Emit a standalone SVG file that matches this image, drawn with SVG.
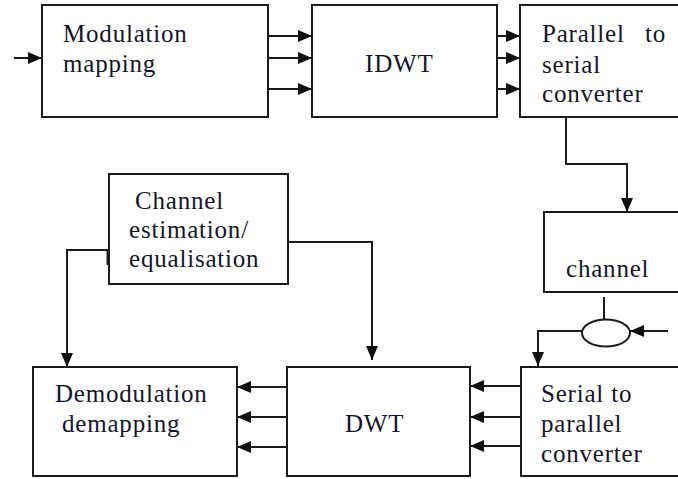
<svg xmlns="http://www.w3.org/2000/svg" width="678" height="479" viewBox="0 0 678 479">
<style>
.box{fill:#fff;stroke:#1c1c1c;stroke-width:2}
.ln{fill:none;stroke:#1c1c1c;stroke-width:2}
.arr{fill:none;stroke:#1c1c1c;stroke-width:2;marker-end:url(#ah)}
text{font-family:"Liberation Serif","Times New Roman",serif;font-size:25px;letter-spacing:0.8px;fill:#15152a}
</style>
<defs>
<marker id="ah" markerUnits="userSpaceOnUse" markerWidth="15" markerHeight="13" refX="14" refY="6" orient="auto">
<path d="M0,0 L14,6 L0,12 Z" fill="#111"/>
</marker>
</defs>
<rect width="678" height="479" fill="#fff"/>
<g id="connectors">
<line class="arr" x1="14" y1="58" x2="42" y2="58"/>
<line class="arr" x1="268" y1="36" x2="312" y2="36"/>
<line class="arr" x1="268" y1="58" x2="312" y2="58"/>
<line class="arr" x1="268" y1="89" x2="312" y2="89"/>
<line class="arr" x1="497" y1="36" x2="520" y2="36"/>
<line class="arr" x1="497" y1="58" x2="520" y2="58"/>
<line class="arr" x1="497" y1="89" x2="520" y2="89"/>
<path class="arr" d="M566,117 V164 H627 V212"/>
<line class="ln" x1="604" y1="297" x2="604" y2="320"/>
<line class="arr" x1="668" y1="331" x2="630" y2="331"/>
<path class="arr" d="M582,331 H538 V366"/>
<line class="arr" x1="521" y1="386" x2="470" y2="386"/>
<line class="arr" x1="521" y1="417" x2="470" y2="417"/>
<line class="arr" x1="521" y1="446" x2="470" y2="446"/>
<line class="arr" x1="287" y1="387" x2="237" y2="387"/>
<line class="arr" x1="287" y1="417" x2="237" y2="417"/>
<line class="arr" x1="287" y1="447" x2="237" y2="447"/>
<path class="arr" d="M109,250 H67 V367"/>
<line x1="108" y1="250" x2="108" y2="265" stroke="#1c1c1c" stroke-width="3"/>
<path class="arr" d="M288,242 H372 V360"/>
</g>
<g id="modulation">
<rect class="box" x="42" y="5" width="226" height="112"/>
<text x="63" y="42">Modulation</text>
<text x="63" y="72">mapping</text>
</g>
<g id="idwt">
<rect class="box" x="312" y="5" width="185" height="112"/>
<text x="365" y="72">IDWT</text>
</g>
<g id="p2s">
<rect class="box" x="520" y="5" width="170" height="112"/>
<text x="542" y="42">Parallel</text>
<text x="645" y="42">to</text>
<text x="542" y="73">serial</text>
<text x="542" y="102">converter</text>
</g>
<g id="channel">
<rect class="box" x="544" y="212" width="146" height="80"/>
<text x="566" y="277">channel</text>
</g>
<g id="adder">
<ellipse class="box" cx="606" cy="333" rx="24" ry="13.5"/>
</g>
<g id="chest">
<rect class="box" x="109" y="174" width="179" height="110"/>
<text x="135" y="209">Channel</text>
<text x="129" y="238">estimation/</text>
<text x="129" y="267">equalisation</text>
</g>
<g id="demod">
<rect class="box" x="33" y="367" width="204" height="109"/>
<text x="55" y="402">Demodulation</text>
<text x="62" y="432">demapping</text>
</g>
<g id="dwt">
<rect class="box" x="287" y="367" width="183" height="109"/>
<text x="345" y="432">DWT</text>
</g>
<g id="s2p">
<rect class="box" x="521" y="367" width="170" height="109"/>
<text x="541" y="402">Serial to</text>
<text x="541" y="432">parallel</text>
<text x="541" y="462">converter</text>
</g>
</svg>
